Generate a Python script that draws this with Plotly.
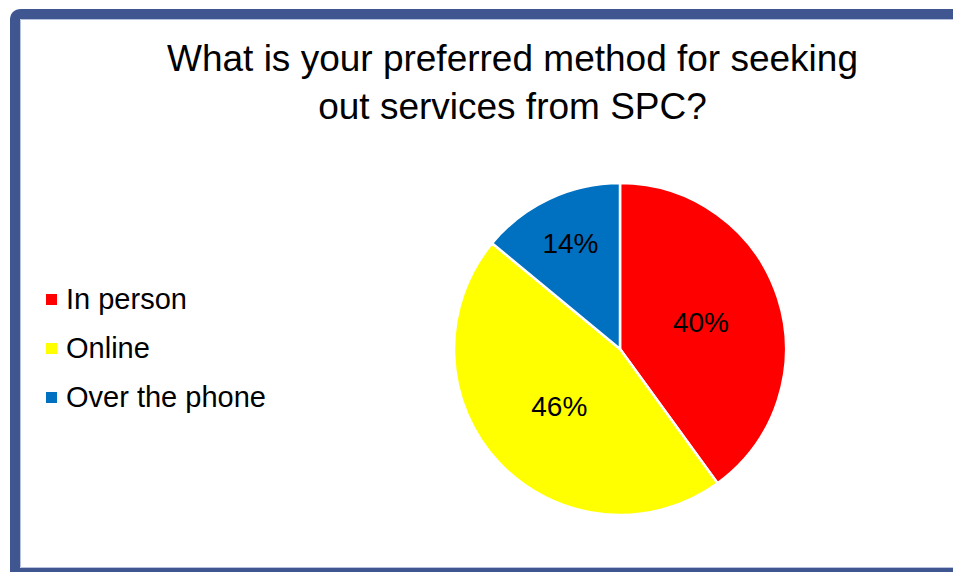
import plotly.graph_objects as go

# Survey responses
methods = ["In person", "Online", "Over the phone"]
shares = [40, 46, 14]
colors = ["#FF0000", "#FFFF00", "#0070C0"]

title_text = "What is your preferred method for seeking<br>out services from SPC?"

W, H = 953, 572
FONT = "Liberation Sans, Arial, sans-serif"

# Pie placement (pixels)
cx, cy, r = 620, 349, 166


def px(x):
    return x / W


def py(y):
    return 1 - y / H


fig = go.Figure(
    go.Pie(
        labels=methods,
        values=shares,
        marker=dict(colors=colors, line=dict(color="white", width=2.5)),
        sort=False,
        direction="clockwise",
        rotation=0,
        textinfo="percent",
        texttemplate="%{percent:.0%}",
        textposition="inside",
        insidetextorientation="horizontal",
        textfont=dict(family=FONT, size=28, color="black"),
        showlegend=False,
        hoverinfo="label+percent",
        domain=dict(x=[px(cx - r), px(cx + r)], y=[py(cy + r), py(cy - r)]),
    )
)

shapes = []
# Frame: thick blue-grey edge with a rounded top-left corner
fx0, fy0, fx1, fy1, cr = 15, 14, 970, 573, 6
path = (
    f"M {px(fx1)},{py(fy0)} L {px(fx0 + cr)},{py(fy0)} "
    f"Q {px(fx0)},{py(fy0)} {px(fx0)},{py(fy0 + cr)} "
    f"L {px(fx0)},{py(fy1)} L {px(fx1)},{py(fy1)}"
)
shapes.append(dict(type="path", xref="paper", yref="paper", path=path,
                   line=dict(color="#3F5690", width=10)))
# Thin light inner edge
ix0, iy0, iy1 = 20.5, 19.5, 567.5
inner = (
    f"M {px(fx1)},{py(iy0)} L {px(ix0)},{py(iy0)} "
    f"L {px(ix0)},{py(iy1)} L {px(fx1)},{py(iy1)}"
)
shapes.append(dict(type="path", xref="paper", yref="paper", path=inner,
                   line=dict(color="#B7C3DE", width=1)))

# Legend built from the category list
annotations = []
leg_x, leg_y0, leg_dy, sq = 46, 299.5, 49, 11
for i, (name, col) in enumerate(zip(methods, colors)):
    yc = leg_y0 + i * leg_dy
    shapes.append(dict(type="rect", xref="paper", yref="paper",
                       x0=px(leg_x), x1=px(leg_x + sq),
                       y0=py(yc + sq / 2), y1=py(yc - sq / 2),
                       fillcolor=col, line=dict(width=0)))
    annotations.append(dict(xref="paper", yref="paper", x=px(64), y=py(yc - 1),
                            xanchor="left", yanchor="middle", text=name,
                            showarrow=False,
                            font=dict(family=FONT, size=29, color="black")))

# Chart title
annotations.append(dict(xref="paper", yref="paper", x=px(512), y=py(36),
                        xanchor="center", yanchor="top", text=title_text,
                        showarrow=False, align="center",
                        font=dict(family=FONT, size=37, color="black")))

fig.update_layout(
    width=W,
    height=H,
    margin=dict(l=0, r=0, t=0, b=0),
    paper_bgcolor="white",
    plot_bgcolor="white",
    shapes=shapes,
    annotations=annotations,
)

fig.write_html("out.html")
